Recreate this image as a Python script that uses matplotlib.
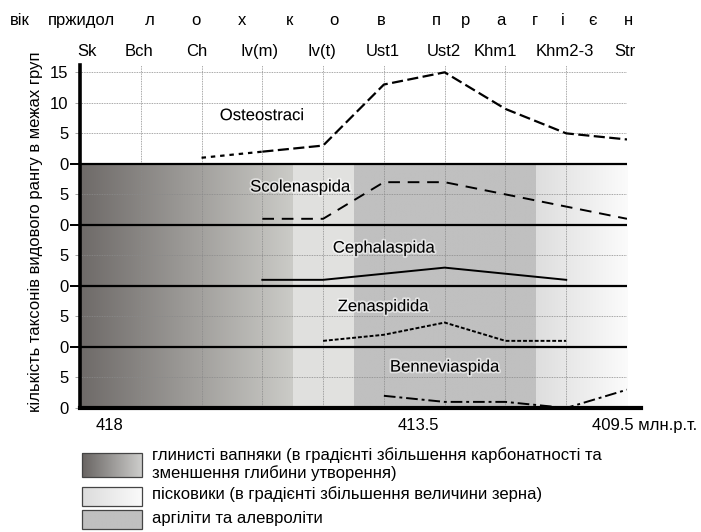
import matplotlib
matplotlib.use("Agg")
import matplotlib.pyplot as plt
import matplotlib.patheffects as pe
from matplotlib.patches import Rectangle
import numpy as np

plt.rcParams['font.family'] = ['Liberation Sans', 'DejaVu Sans']

nan = np.nan

# stratigraphic levels, oldest on the left
STAGES = ['Sk', 'Bch', 'Ch', 'Iv(m)', 'Iv(t)', 'Ust1', 'Ust2', 'Khm1', 'Khm2-3', 'Str']
HEADER = ['вік', 'пржидол', 'л', 'о', 'х', 'к', 'о', 'в', 'п', 'р', 'а', 'г', 'і', 'є', 'н']
AGES = ['418', '413.5', '409.5 млн.р.т.']

# number of species-rank taxa per group (one panel of 10 units each, bottom -> top)
GROUPS = ['Benneviaspida', 'Zenaspidida', 'Cephalaspida', 'Scolenaspida', 'Osteostraci']
benneviaspida = [nan, nan, nan, nan, nan, 2, 1, 1, 0, 3]
zenaspidida = [nan, nan, nan, nan, 1, 2, 4, 1, 1, nan]
cephalaspida = [nan, nan, nan, 1, 1, 2, 3, 2, 1, nan]
scolenaspida = [nan, nan, nan, 1, 1, 7, 7, 5, 3, 1]
osteostraci = [nan, nan, 1, 2, 3, 13, 15, 9, 5, 4]

Y_TICKLABELS = ['0', '5', '0', '5', '0', '5', '0', '5', '0', '5', '10', '15']

# lithology along the section (column units)
LITHO_EDGES = [0, 3.5, 4.5, 7.5, 9.0]

LEGEND_TEXT = [
    'глинисті вапняки (в градієнті збільшення карбонатності та\nзменшення глибини утворення)',
    'пісковики (в градієнті збільшення величини зерна)',
    'аргіліти та алевроліти',
]

W, H = 701, 532
PANEL = 10


def px_box(l, t, r, b):
    return [l / W, 1 - b / H, (r - l) / W, (b - t) / H]


def ramp(c0, c1, n=256):
    c0, c1 = np.array(c0) / 255.0, np.array(c1) / 255.0
    t = np.linspace(0, 1, n)[:, None]
    return (c0 + (c1 - c0) * t)[None, :, :]


LIME = ramp((110, 106, 104), (203, 203, 199))
SAND = ramp((224, 224, 222), (226, 226, 224))
ARGI = ramp((192, 192, 192), (192, 192, 192))
SAND_R = ramp((222, 222, 222), (251, 251, 251))

fig = plt.figure(figsize=(7.01, 5.32), dpi=100)
ax = fig.add_axes(px_box(80, 65, 627, 408))

# lithology background under the four lower panels
for img, x0, x1 in zip([LIME, SAND, ARGI, SAND_R], LITHO_EDGES[:-1], LITHO_EDGES[1:]):
    ax.imshow(img, extent=(x0, x1, 0, 4 * PANEL), aspect='auto', zorder=0,
              interpolation='bilinear')

# dotted grid
for k in range(1, len(STAGES)):
    ax.axvline(k, color='#8a8a8a', lw=0.6, ls=(0, (1, 1)), zorder=1)
for y in np.arange(5, 56, 5):
    if y % PANEL:
        ax.axhline(y, color='#8a8a8a', lw=0.6, ls=(0, (1, 1)), zorder=1)
for y in [50]:
    ax.axhline(y, color='#8a8a8a', lw=0.6, ls=(0, (1, 1)), zorder=1)
ax.hlines([10, 20, 30, 40], 0, 9, color='black', lw=1.6, zorder=2)

x = np.arange(len(STAGES))
series = [benneviaspida, zenaspidida, cephalaspida, scolenaspida, osteostraci]
styles = [
    dict(dashes=(6, 2, 1.5, 2)),
    dict(dashes=(2, 1)),
    dict(ls='-'),
    dict(dashes=(6, 4)),
    dict(dashes=(5, 2)),
]
for i, (vals, st) in enumerate(zip(series, styles)):
    y = np.array(vals, dtype=float) + i * PANEL
    if GROUPS[i] == 'Osteostraci':
        ax.plot(x[2:4], y[2:4], color='black', lw=1.6, dashes=(2, 2.2), zorder=3)
        ax.plot(x[3:], y[3:], color='black', lw=1.6, zorder=3, **st)
    else:
        ax.plot(x, y, color='black', lw=1.4, zorder=3, **st)

halo = [pe.withStroke(linewidth=2.5, foreground='white', alpha=0.55)]
label_pos = [(5.10, 6.7), (4.24, 16.6), (4.16, 26.2), (2.80, 36.2), (2.30, 47.9)]
for name, (lx, ly) in zip(GROUPS, label_pos):
    ax.text(lx, ly, name, fontsize=12, ha='left', va='center', zorder=4,
            path_effects=halo)

ax.set_xlim(0, 9)
ax.set_ylim(0, 56.2)
ax.set_xticks([])

major = [10, 20, 30, 40]
allpos = list(range(0, 56, 5))
minor = [p for p in allpos if p not in major]
ax.set_yticks(major)
ax.set_yticklabels([Y_TICKLABELS[allpos.index(p)] for p in major])
ax.set_yticks(minor, minor=True)
ax.set_yticklabels([Y_TICKLABELS[allpos.index(p)] for p in minor], minor=True)
ax.tick_params(axis='y', which='major', length=7, width=1.4, color='black',
               pad=1.5, labelsize=12)
ax.tick_params(axis='y', which='minor', length=3.6, width=0.6, color='#999999',
               pad=4.9, labelsize=12, labelcolor='black')

for s in ['top', 'right', 'bottom']:
    ax.spines[s].set_visible(False)
ax.spines['left'].set_linewidth(2.6)
ax.plot([0, 9.23], [0, 0], color='black', lw=3, clip_on=False, zorder=5)

# stage names and age header above the plot
xt = ax.get_xaxis_transform()
stage_x = [0.11, 0.97, 1.92, 2.96, 3.98, 4.98, 5.99, 6.83, 7.98, 8.96]
for sx, s in zip(stage_x, STAGES):
    ax.text(sx, 1.038, s, transform=xt, ha='center', va='center', fontsize=12)
header_x = [-0.99, 0.02, 1.15, 1.91, 2.66, 3.44, 4.18, 4.95, 5.86, 6.35, 6.92,
            7.48, 7.94, 8.44, 9.03]
for hx, s in zip(header_x, HEADER):
    ax.text(hx, 1.131, s, transform=xt, ha='center', va='center', fontsize=12,
            clip_on=False)
age_x = [0.48, 5.56, 9.29]
for axx, s in zip(age_x, AGES):
    ax.text(axx, -0.052, s, transform=xt, ha='center', va='center', fontsize=12)

fig.text(36 / W, 1 - 232 / H, 'кількість таксонів видового рангу в межах груп',
         rotation=90, ha='center', va='center', fontsize=12)

# legend drawn in pixel space
lay = fig.add_axes([0, 0, 1, 1])
lay.set_axis_off()
lay.patch.set_visible(False)
boxes = [(453, 477), (487, 506), (510, 529)]
fills = [ramp((104, 100, 98), (205, 205, 203)), ramp((220, 220, 220), (250, 250, 250)),
         ramp((192, 192, 192), (192, 192, 192))]
for (t, b), img in zip(boxes, fills):
    lay.imshow(img, extent=(82, 142, b, t), aspect='auto', interpolation='bilinear')
    lay.add_patch(Rectangle((82, t), 60, b - t, fill=False, ec='#444444', lw=0.9))
text_y = [464, 494, 518]
for ty, s in zip(text_y, LEGEND_TEXT):
    lay.text(152, ty, s, ha='left', va='center', fontsize=12, linespacing=1.15)
lay.set_xlim(0, W)
lay.set_ylim(H, 0)

fig.savefig('out.png', dpi=100)
